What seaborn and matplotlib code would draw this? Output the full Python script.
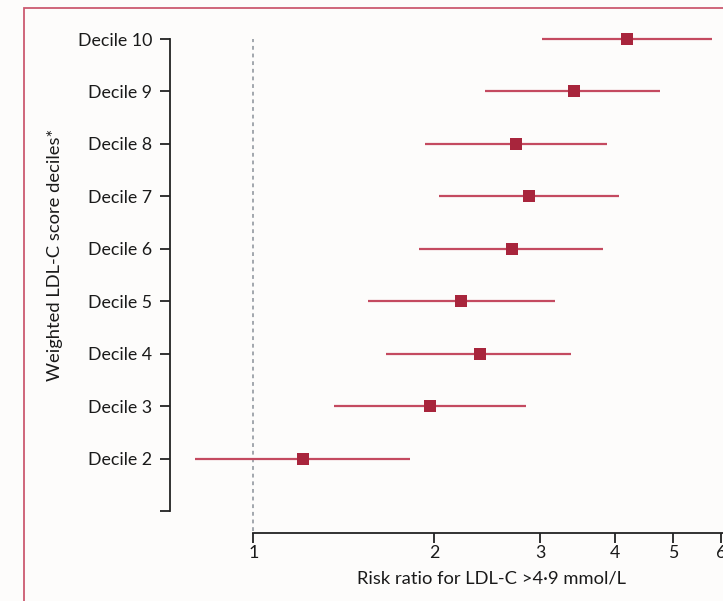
import matplotlib
matplotlib.use("Agg")
import matplotlib.pyplot as plt
import seaborn as sns
import pandas as pd
import numpy as np
from matplotlib.patches import Rectangle

# ---- data ----
deciles = ["Decile 10", "Decile 9", "Decile 8", "Decile 7", "Decile 6",
           "Decile 5", "Decile 4", "Decile 3", "Decile 2"]
positions = [10, 9, 8, 7, 6, 5, 4, 3, 2]
risk_ratio = [4.19, 3.41, 2.74, 2.88, 2.69, 2.22, 2.38, 1.97, 1.21]
ci_low = [3.02, 2.43, 1.93, 2.04, 1.89, 1.55, 1.66, 1.36, 0.80]
ci_high = [5.80, 4.75, 3.88, 4.06, 3.81, 3.18, 3.38, 2.84, 1.82]
x_ticks = [1, 2, 3, 4, 5, 6]

df = pd.DataFrame({"decile": deciles, "pos": positions, "rr": risk_ratio,
                   "lo": ci_low, "hi": ci_high})

sns.set_theme(style="ticks")
plt.rcParams["font.family"] = ["Lato", "DejaVu Sans"]

W, H = 723, 601
fig = plt.figure(figsize=(W / 100, H / 100), dpi=100)
fig.patch.set_facecolor("#fdfcfb")

# red frame (cropped on right and bottom)
fig.patches.append(Rectangle((24 / W, -0.1), 1.2, (H - 8) / H + 0.1,
                             transform=fig.transFigure, fill=False,
                             edgecolor="#cc5a70", linewidth=1.3))

ax_left, ax_right = 170, 742
ax_top, ax_bottom = 23.3, 533
ax = fig.add_axes([ax_left / W, (H - ax_bottom) / H,
                   (ax_right - ax_left) / W, (ax_bottom - ax_top) / H])
ax.set_facecolor("none")

ax.set_xscale("log")
ax.set_xlim(0.727, 6.5)
ax.set_ylim(0.58, 10.3)

# reference line
ax.vlines(1, 0.62, 10, colors="#8a9099", linestyles=(0, (2.5, 2.5)), linewidth=1.1)

# confidence intervals
ax.hlines(df["pos"], df["lo"], df["hi"], colors="#c44a60", linewidth=1.6, zorder=2)

# points
sns.scatterplot(data=df, x="rr", y="pos", marker="s", s=85, color="#a8253c",
                edgecolor="#a8253c", linewidth=0, ax=ax, zorder=3, legend=False)

# axes styling
txt = "#1a1a1a"
for s in ["top", "right"]:
    ax.spines[s].set_visible(False)
ax.spines["left"].set_bounds(1, 10)
ax.spines["bottom"].set_bounds(1, 6.5)
for s in ["left", "bottom"]:
    ax.spines[s].set_color("#222222")
    ax.spines[s].set_linewidth(1.3)

ax.set_yticks([1] + positions)
ax.set_yticklabels([""] + deciles, fontsize=12.8, color=txt)
ax.set_xticks(x_ticks)
ax.set_xticklabels([str(t) for t in x_ticks], fontsize=12.8, color=txt)
ax.xaxis.set_minor_locator(matplotlib.ticker.NullLocator())
ax.tick_params(axis="both", direction="out", length=7, width=1.3, color="#222222")
ax.tick_params(axis="y", pad=6)
ax.tick_params(axis="x", pad=2)

ax.set_xlabel("Risk ratio for LDL-C >4·9 mmol/L", fontsize=13.2, color=txt)
ax.set_ylabel("Weighted LDL-C score deciles*", fontsize=13.2, color=txt)
ax.xaxis.set_label_coords((492 - ax_left) / (ax_right - ax_left),
                          -(570 - ax_bottom) / (ax_bottom - ax_top), transform=ax.transAxes)
ax.yaxis.set_label_coords(-(170 - 63) / (ax_right - ax_left),
                          (ax_bottom - 255) / (ax_bottom - ax_top), transform=ax.transAxes)

fig.savefig("out.png", dpi=100, facecolor=fig.get_facecolor())
